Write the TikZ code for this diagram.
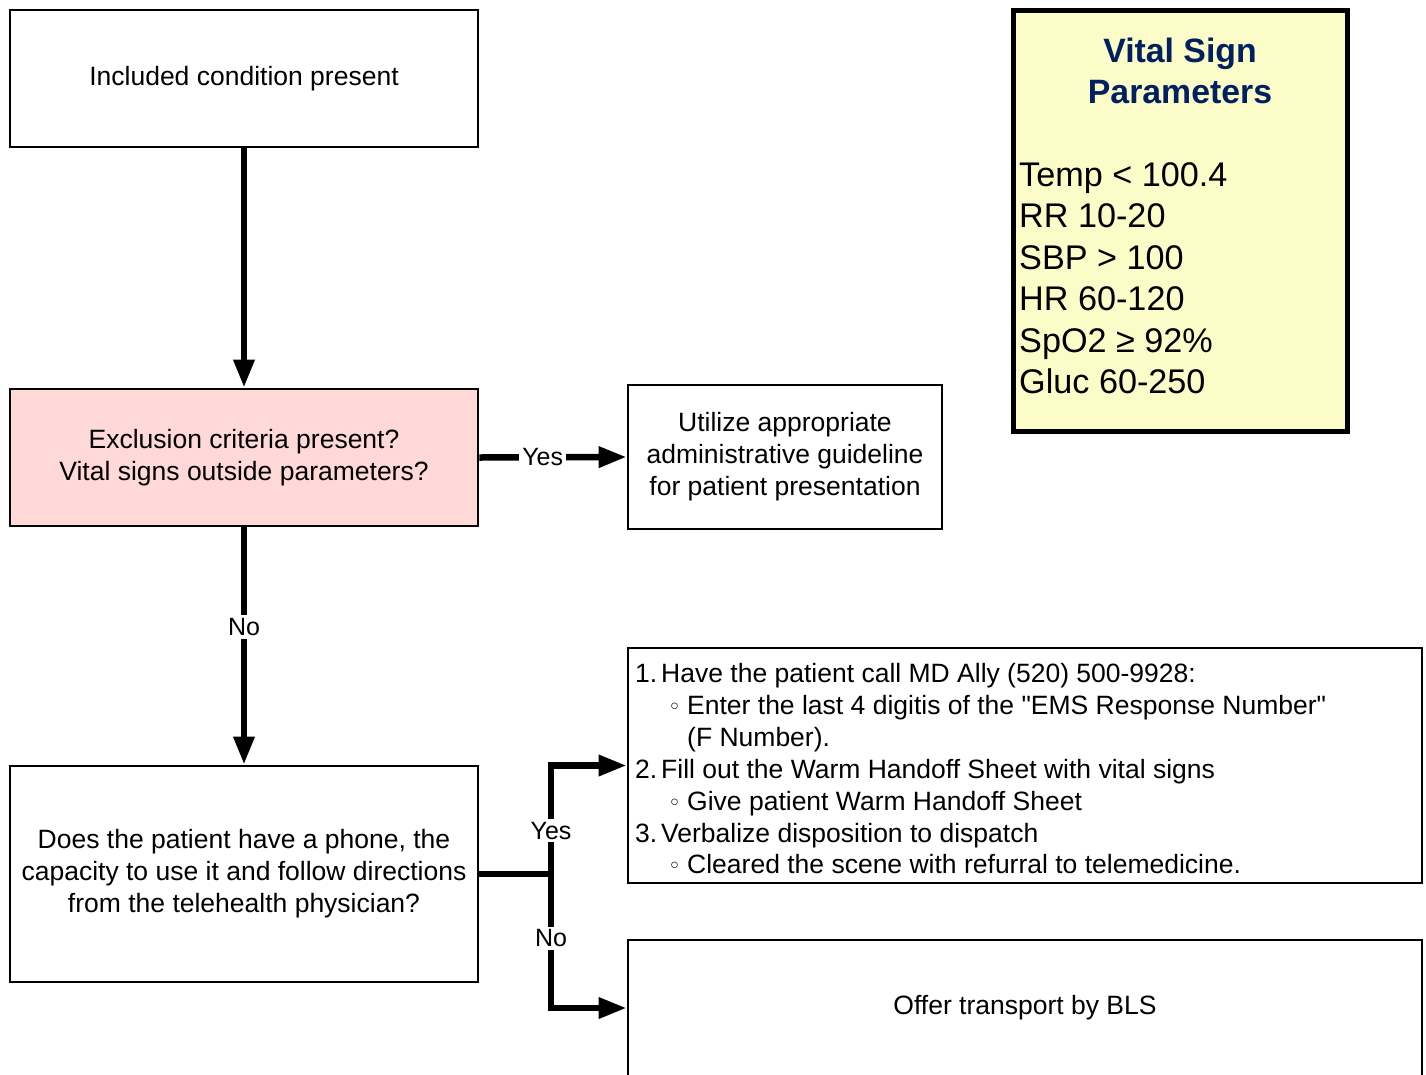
\documentclass[tikz,border=0pt]{standalone}
\usepackage{fontspec}
\setmainfont{Liberation Sans}
\newfontfamily\dejavu{DejaVu Sans}
\newfontfamily\qfont{Liberation Sans}[Ligatures=ResetAll]
\newcommand{\sq}{{\qfont\char34}}
\usetikzlibrary{arrows.meta}
\definecolor{pinkfill}{RGB}{255,216,216}
\definecolor{vfill}{RGB}{252,252,200}
\definecolor{navy}{RGB}{0,32,96}
\tikzset{
  fbox/.style={draw, line width=2.8pt, inner sep=0pt, align=center, font=\fontsize{26.5}{32}\selectfont},
  arr/.style={line width=6.5pt, -{Triangle[length=28pt,width=20pt]}},
  conn/.style={line width=6.5pt},
  lbl/.style={fill=white, inner sep=3pt, font=\fontsize{25}{30}\selectfont},
  itemtxt/.style={anchor=base west, inner sep=0pt, font=\fontsize{26.5}{32}\selectfont},
  vtxt/.style={anchor=base west, inner sep=0pt, font=\fontsize{34.2}{41.4}\selectfont},
  bul/.style={anchor=base west, inner sep=0pt, font=\dejavu\fontsize{22}{32}\selectfont}
}
\begin{document}
\begin{tikzpicture}[x=1pt,y=-1pt]
\useasboundingbox (0,0) rectangle (1426,1074);
% boxes
\node[fbox, minimum width=468pt, minimum height=137pt] (b1) at (244,78.5) {Included condition present};
\node[fbox, fill=pinkfill, minimum width=468pt, minimum height=137pt] (b2) at (244,457.5) {Exclusion criteria present?\\Vital signs outside parameters?};
\node[fbox, minimum width=314pt, minimum height=144pt] (b3) at (785,457) {Utilize appropriate\\administrative guideline\\for patient presentation};
\node[fbox, minimum width=468pt, minimum height=216pt] (b4) at (244,874) {Does the patient have a phone, the\\capacity to use it and follow directions\\from the telehealth physician?};
\node[fbox, minimum width=794pt, minimum height=235pt] (b5) at (1025,765.5) {};
\node[fbox, minimum width=794pt, minimum height=136pt] (b6) at (1025,1008) {Offer transport by BLS};
% vital sign box
\node[draw, line width=5pt, fill=vfill, minimum width=334pt, minimum height=421pt, inner sep=0pt] (vs) at (1180,220.5) {};
\node[align=center, inner sep=0pt, text=navy, font=\bfseries\fontsize{33.8}{41}\selectfont] (vt) at (1180,70.5) {Vital Sign\\Parameters};
\node[vtxt] (v1) at (1019,186) {Temp < 100.4};
\node[vtxt] (v2) at (1019,227) {RR 10-20};
\node[vtxt] (v3) at (1019,269) {SBP > 100};
\node[vtxt] (v4) at (1019,310) {HR 60-120};
\node[vtxt] (v5) at (1019,352) {SpO2 ≥ 92\%};
\node[vtxt] (v6) at (1019,393) {Gluc 60-250};
% list items
\node[itemtxt] (n1) at (635,682.5) {1.};
\node[itemtxt] (t1) at (661,682.5) {Have the patient call MD Ally (520) 500-9928:};
\node[bul] (c1) at (668,714.5) {◦};
\node[itemtxt] (t2) at (687,714.5) {Enter the last 4 digitis of the \sq EMS Response Number\sq};
\node[itemtxt] (t3) at (687,746.5) {(F Number).};
\node[itemtxt] (n2) at (635,778.5) {2.};
\node[itemtxt] (t4) at (661,778.5) {Fill out the Warm Handoff Sheet with vital signs};
\node[bul] (c2) at (668,810.5) {◦};
\node[itemtxt] (t5) at (687,810.5) {Give patient Warm Handoff Sheet};
\node[itemtxt] (n3) at (635,842.5) {3.};
\node[itemtxt] (t6) at (661,842.5) {Verbalize disposition to dispatch};
\node[bul] (c3) at (668,873.5) {◦};
\node[itemtxt] (t7) at (687,873.5) {Cleared the scene with refurral to telemedicine.};
% connectors
\draw[arr] (b1.south) -- (b2.north);
\draw[arr] (b2.east) -- node[lbl, pos=0.43] {Yes} (b3.west);
\draw[arr] (b2.south) -- node[lbl, pos=0.42] {No} (b4.north);
\coordinate (j) at (551,874);
\draw[conn] (b4.east) -- (j);
\draw[arr] (j) |- node[lbl, pos=0.2] {Yes} (b5.west);
\draw[arr] (j) |- node[lbl, pos=0.24] {No} (b6.west);
\end{tikzpicture}
\end{document}
